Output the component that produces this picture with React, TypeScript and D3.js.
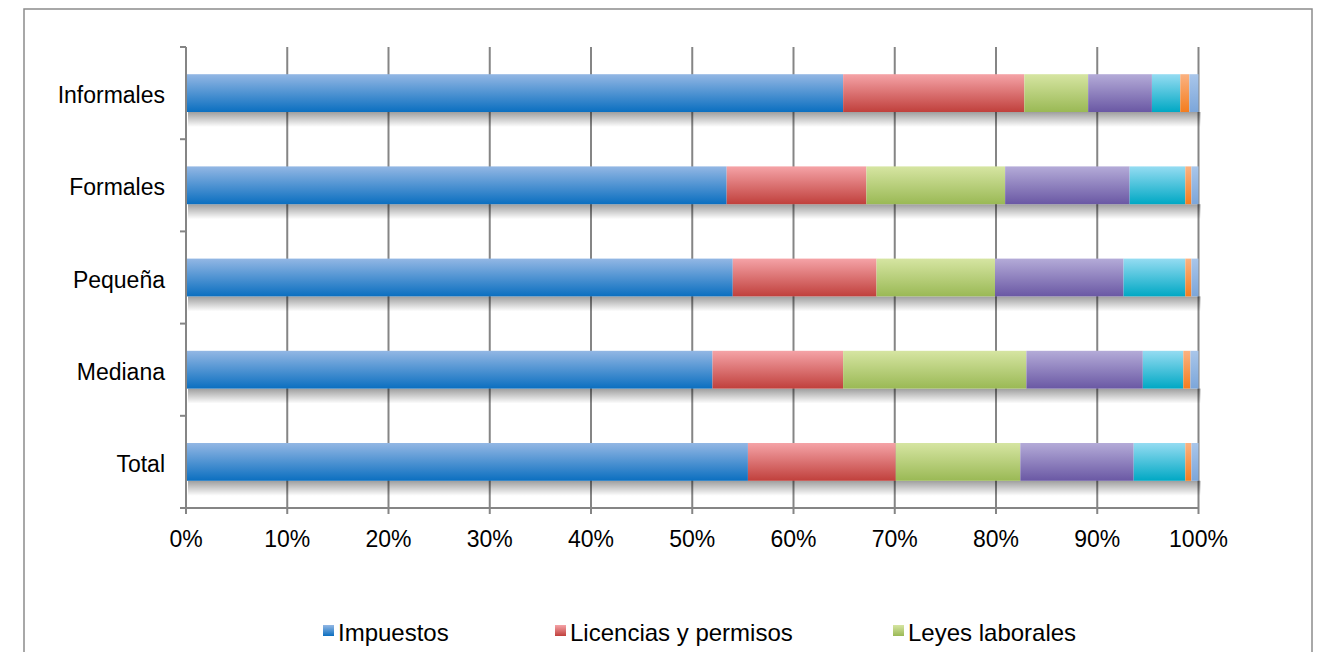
import React from 'react';
import * as d3 from 'd3';

// categories top to bottom
const categories = ['Informales', 'Formales', 'Pequeña', 'Mediana', 'Total'];

// series names (only the first three are visible in the cropped legend)
const seriesNames = ['Impuestos', 'Licencias y permisos', 'Leyes laborales', 's4', 's5', 's6', 's7'];

// shares per category, same order as categories
const impuestos = [64.9, 53.4, 54.0, 52.0, 55.5];
const licencias = [17.9, 13.8, 14.2, 12.9, 14.6];
const leyes = [6.3, 13.7, 11.7, 18.1, 12.3];
const serie4 = [6.3, 12.3, 12.7, 11.5, 11.2];
const serie5 = [2.8, 5.5, 6.1, 4.0, 5.1];
const serie6 = [0.9, 0.6, 0.6, 0.7, 0.6];
const serie7 = [0.9, 0.7, 0.7, 0.8, 0.7];

const xTicks = [0, 10, 20, 30, 40, 50, 60, 70, 80, 90, 100];

// gradient stops: [top, bottom]
const palette = [
  ['#93b7e4', '#0b6fc0'],
  ['#f5a3a7', '#c0403c'],
  ['#d6e5a2', '#9ab955'],
  ['#b4abd8', '#6a58a4'],
  ['#95dcf2', '#00a8c4'],
  ['#fbb281', '#f47d1e'],
  ['#a9c6ea', '#7ca6da'],
];

const legendX = [323, 555, 893];

export default function App() {
  const width = 1322;
  const height = 652;
  const font = 'Liberation Sans, Arial, sans-serif';

  const x = d3.scaleLinear().domain([0, 100]).range([186, 1198.5]);
  const y = d3.scaleBand<string>().domain(categories).range([47, 508]).paddingInner(0.59).paddingOuter(0.295);

  const rows = categories.map((c, i) => ({
    cat: c,
    s0: impuestos[i], s1: licencias[i], s2: leyes[i], s3: serie4[i], s4: serie5[i], s5: serie6[i], s6: serie7[i],
  }));
  const keys = ['s0', 's1', 's2', 's3', 's4', 's5', 's6'];
  const stacked = d3.stack<any>().keys(keys).offset(d3.stackOffsetExpand)(rows);

  const bw = y.bandwidth();
  const step = y.step();
  const bandEdges = d3.range(categories.length + 1).map(i => 47 + i * step);

  return (
    <svg width={width} height={height} style={{ position: 'absolute', left: 0, top: 0, fontFamily: font }}>
      <defs>
        {palette.map((p, i) => (
          <linearGradient key={i} id={`g${i}`} x1="0" y1="0" x2="0" y2="1">
            <stop offset="0%" stopColor={p[0]} />
            <stop offset="100%" stopColor={p[1]} />
          </linearGradient>
        ))}
        <linearGradient id="shadow" x1="0" y1="0" x2="0" y2="1">
          <stop offset="0%" stopColor="#000" stopOpacity={0.38} />
          <stop offset="100%" stopColor="#000" stopOpacity={0} />
        </linearGradient>
      </defs>

      <rect x={0} y={0} width={width} height={height} fill="#fff" />
      <rect x={24} y={9} width={1288} height={660} fill="none" stroke="#8c8c8c" strokeWidth={1.5} />

      {/* gridlines */}
      {xTicks.map(t => (
        <line key={t} x1={x(t)} x2={x(t)} y1={47} y2={508} stroke="#858585" strokeWidth={2} />
      ))}

      {/* shadows */}
      {categories.map(c => (
        <rect key={c} x={x(0) + 2} y={(y(c) as number) + bw} width={x(100) - x(0)} height={15} fill="url(#shadow)" />
      ))}

      {/* bars */}
      {stacked.map((s, i) => (
        <g key={s.key}>
          {s.map((d, j) => (
            <rect key={j} x={x(d[0] * 100)} y={y(rows[j].cat)} width={x(d[1] * 100) - x(d[0] * 100)} height={bw} fill={`url(#g${i})`} />
          ))}
        </g>
      ))}

      {/* axes */}
      <line x1={186} x2={186} y1={47} y2={508} stroke="#858585" strokeWidth={2} />
      {bandEdges.map((e, i) => (
        <line key={i} x1={180} x2={186} y1={e} y2={e} stroke="#858585" strokeWidth={2} />
      ))}
      <line x1={180} x2={x(100)} y1={508} y2={508} stroke="#858585" strokeWidth={2} />
      {xTicks.map(t => (
        <line key={t} x1={x(t)} x2={x(t)} y1={508} y2={514} stroke="#858585" strokeWidth={2} />
      ))}

      {/* labels */}
      {categories.map(c => (
        <text key={c} x={165} y={(y(c) as number) + bw / 2 + 10} textAnchor="end" fontSize={23} fill="#000">{c}</text>
      ))}
      {xTicks.map(t => (
        <text key={t} x={x(t)} y={547} textAnchor="middle" fontSize={23} fill="#000">{`${t}%`}</text>
      ))}

      {/* legend */}
      {seriesNames.slice(0, 3).map((n, i) => (
        <g key={n} transform={`translate(${legendX[i]},625)`}>
          <rect x={0} y={0} width={11} height={11} fill={`url(#g${i})`} />
          <text x={15} y={16} fontSize={24} fill="#000">{n}</text>
        </g>
      ))}
    </svg>
  );
}
